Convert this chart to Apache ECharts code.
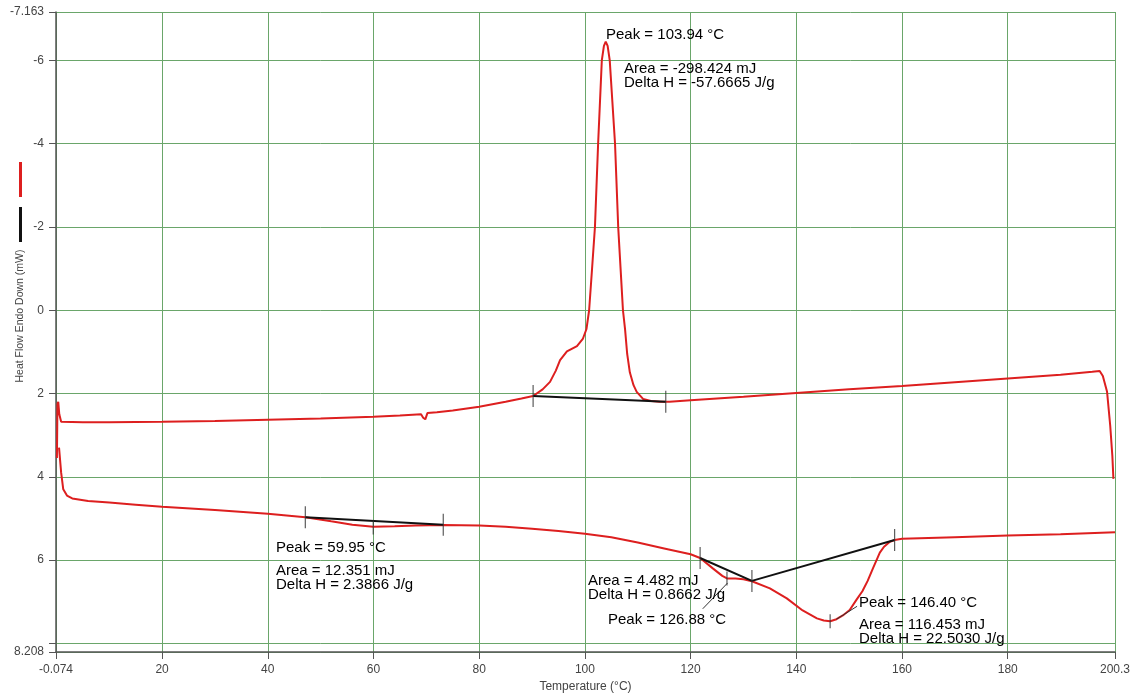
<!DOCTYPE html>
<html>
<head>
<meta charset="utf-8">
<script src="https://cdn.jsdelivr.net/npm/echarts@6/dist/echarts.min.js"></script>
<style>
html,body{margin:0;padding:0;background:#fff;}
#chart{width:1134px;height:699px;}
</style>
</head>
<body>
<div id="chart"></div>
<script>
// ---------- DATA ----------
const xTickValues = [-0.074, 20, 40, 60, 80, 100, 120, 140, 160, 180, 200.3];
const yTickValues = [-7.163, -6, -4, -2, 0, 2, 4, 6, 8, 8.208];
const yLabelValues = [-7.163, -6, -4, -2, 0, 2, 4, 6, 8.208];

// heating run (upper trace)
const heatT = [0.1, 0.2, 0.35, 0.55, 0.9, 5, 10, 20, 30, 40, 50, 60, 65, 69.0, 69.4, 69.8, 70.2, 72, 75, 80, 85, 88, 90.2, 92, 93.4, 94.5, 95.3, 96.6, 97.6, 98.5, 99.6, 100.3, 100.8, 101.3, 101.9, 102.5, 103.2, 103.6, 103.94, 104.3, 104.7, 105.2, 105.7, 106.3, 106.75, 107.2, 107.6, 108.0, 108.5, 109.2, 109.8, 111.0, 112.5, 114.2, 116, 120, 130, 140, 150, 160, 170, 180, 190, 196, 197.4, 198.0, 198.8, 199.4, 199.8, 200.0];
const heatV = [3.55, 2.25, 2.2, 2.5, 2.68, 2.69, 2.69, 2.68, 2.66, 2.63, 2.6, 2.56, 2.53, 2.5, 2.58, 2.62, 2.47, 2.45, 2.41, 2.32, 2.2, 2.12, 2.06, 1.9, 1.72, 1.45, 1.2, 0.99, 0.92, 0.86, 0.69, 0.45, 0.0, -0.9, -2.0, -4.0, -6.0, -6.35, -6.45, -6.35, -6.0, -5.0, -4.0, -2.0, -1.0, 0.0, 0.46, 1.05, 1.49, 1.8, 1.96, 2.13, 2.18, 2.2, 2.2, 2.16, 2.08, 1.99, 1.9, 1.82, 1.73, 1.64, 1.55, 1.48, 1.46, 1.58, 1.96, 2.78, 3.5, 4.05];

// cooling / second run (lower trace)
const coolT = [0.5, 0.9, 1.3, 2.0, 3.0, 6, 10, 15, 20, 30, 40, 47.1, 52, 56, 59.95, 64, 68, 73.2, 80, 85, 90, 95, 100, 105, 110, 115, 120, 121.8, 124.2, 126.0, 126.88, 128.5, 130, 131.6, 135.0, 138.2, 141.2, 143.9, 145.2, 146.4, 147.6, 148.8, 150.1, 151.4, 152.5, 153.5, 154.5, 155.8, 156.6, 157.7, 158.6, 160, 170, 180, 190, 200.3];
const coolV = [3.3, 3.9, 4.3, 4.45, 4.52, 4.58, 4.62, 4.67, 4.72, 4.8, 4.89, 4.97, 5.07, 5.15, 5.2, 5.19, 5.17, 5.16, 5.17, 5.2, 5.25, 5.3, 5.37, 5.45, 5.58, 5.72, 5.86, 5.95, 6.2, 6.38, 6.44, 6.44, 6.46, 6.51, 6.68, 6.92, 7.21, 7.40, 7.45, 7.47, 7.42, 7.33, 7.2, 6.95, 6.75, 6.5, 6.2, 5.82, 5.68, 5.56, 5.52, 5.49, 5.45, 5.41, 5.38, 5.33];

// integration baselines
const base1T = [90.2, 115.3];      const base1V = [2.06, 2.2];
const base2T = [47.1, 73.2];       const base2V = [4.97, 5.15];
const base3T = [121.8, 131.6, 158.6]; const base3V = [5.95, 6.5, 5.52];

// limit ticks on baselines and peak markers
const limitT = [90.2, 115.3, 47.1, 73.2, 121.8, 131.6, 158.6];
const limitV = [2.06, 2.2, 4.97, 5.15, 5.95, 6.5, 5.52];
const peakT = [59.95, 126.88, 146.40];
const peakV = [5.22, 6.44, 7.47];

// leader lines from peaks to labels
const leader1T = [127.0, 122.3]; const leader1V = [6.55, 7.17];
const leader2T = [147.6, 151.5]; const leader2V = [7.42, 7.11];

// annotation texts
const annotations = [
  'Peak = 103.94 °C', 'Area = -298.424 mJ', 'Delta H = -57.6665 J/g',
  'Peak = 59.95 °C', 'Area = 12.351 mJ', 'Delta H = 2.3866 J/g',
  'Area = 4.482 mJ', 'Delta H = 0.8662 J/g', 'Peak = 126.88 °C',
  'Peak = 146.40 °C', 'Area = 116.453 mJ', 'Delta H = 22.5030 J/g'
];
const xName = 'Temperature (°C)';
const yName = 'Heat Flow Endo Down (mW)';

// ---------- CHART ----------
const zip = (a, b) => a.map((v, i) => [v, b[i]]);
const FONT = '"Liberation Sans", Arial, sans-serif';
const RED = '#dd1f1f';
const GRIDC = '#6aa66a';

// annotation pixel positions (layout)
const annPos = [
  [606, 35], [624, 69], [624, 83],
  [276, 548], [276, 571], [276, 585],
  [588, 581], [588, 595], [608, 620],
  [859, 603], [859, 625], [859, 639]
];

const chart = echarts.init(document.getElementById('chart'), null, {renderer: 'canvas'});

function lineSeries(name, data, color, width, z) {
  return {
    name: name, type: 'line', data: data, showSymbol: false, symbol: 'none',
    lineStyle: {color: color, width: width}, itemStyle: {color: color},
    animation: false, z: z, silent: true
  };
}

const option = {
  animation: false,
  backgroundColor: '#fff',
  grid: {left: 56, right: 19, top: 12, bottom: 47, containLabel: false},
  legend: {
    orient: 'vertical', left: 14, top: 157, itemWidth: 3, itemHeight: 35, itemGap: 10,
    icon: 'rect', data: ['Heat Flow', 'Baseline'], formatter: () => '',
    textStyle: {fontSize: 1}, selectedMode: false
  },
  xAxis: {
    type: 'value', min: -0.074, max: 200.3,
    name: xName, nameLocation: 'middle', nameGap: 27,
    nameTextStyle: {fontFamily: FONT, fontSize: 12, color: '#444'},
    axisLine: {show: true, onZero: false, lineStyle: {color: '#555', width: 1.5}},
    axisTick: {show: true, length: 7, customValues: xTickValues, lineStyle: {color: '#555'}},
    axisLabel: {customValues: xTickValues, margin: 12, fontFamily: FONT, fontSize: 12, color: '#444',
      formatter: v => String(v)},
    splitLine: {show: true, lineStyle: {color: GRIDC, width: 1}}
  },
  yAxis: {
    type: 'value', min: -7.163, max: 8.208, inverse: true,
    axisLine: {show: true, onZero: false, lineStyle: {color: '#555', width: 1.5}},
    axisTick: {show: true, length: 7, customValues: yTickValues, lineStyle: {color: '#555'}},
    axisLabel: {customValues: yLabelValues, margin: 12, fontFamily: FONT, fontSize: 12, color: '#444',
      formatter: v => String(v)},
    splitLine: {show: true, lineStyle: {color: GRIDC, width: 1}}
  },
  series: [
    lineSeries('Heat Flow', zip(heatT, heatV), RED, 2, 5),
    lineSeries('Heat Flow', zip(coolT, coolV), RED, 2, 5),
    lineSeries('Baseline', zip(base1T, base1V), '#111', 2, 6),
    lineSeries('Baseline', zip(base2T, base2V), '#111', 2, 6),
    lineSeries('Baseline', zip(base3T, base3V), '#111', 2, 6),
    lineSeries('leader', zip(leader1T, leader1V), '#333', 1, 6),
    lineSeries('leader', zip(leader2T, leader2V), '#333', 1, 6),
    {
      name: 'limits', type: 'scatter', data: zip(limitT, limitV), symbol: 'rect', symbolSize: [1.2, 22],
      itemStyle: {color: '#333'}, silent: true, z: 7, animation: false
    },
    {
      name: 'peaks', type: 'scatter', data: zip(peakT, peakV), symbol: 'rect', symbolSize: [1.2, 14],
      itemStyle: {color: '#333'}, silent: true, z: 7, animation: false
    }
  ],
  graphic: [
    {
      type: 'text', x: 20, y: 316, rotation: Math.PI / 2,
      style: {text: yName, font: '10.5px ' + FONT, fill: '#444', align: 'center', verticalAlign: 'middle'}
    }
  ].concat(annotations.map((t, i) => ({
    type: 'text', x: annPos[i][0], y: annPos[i][1], z: 100,
    style: {text: t, font: '15px ' + FONT, fill: '#000', align: 'left', verticalAlign: 'middle'}
  })))
};
chart.setOption(option);
</script>
</body>
</html>
